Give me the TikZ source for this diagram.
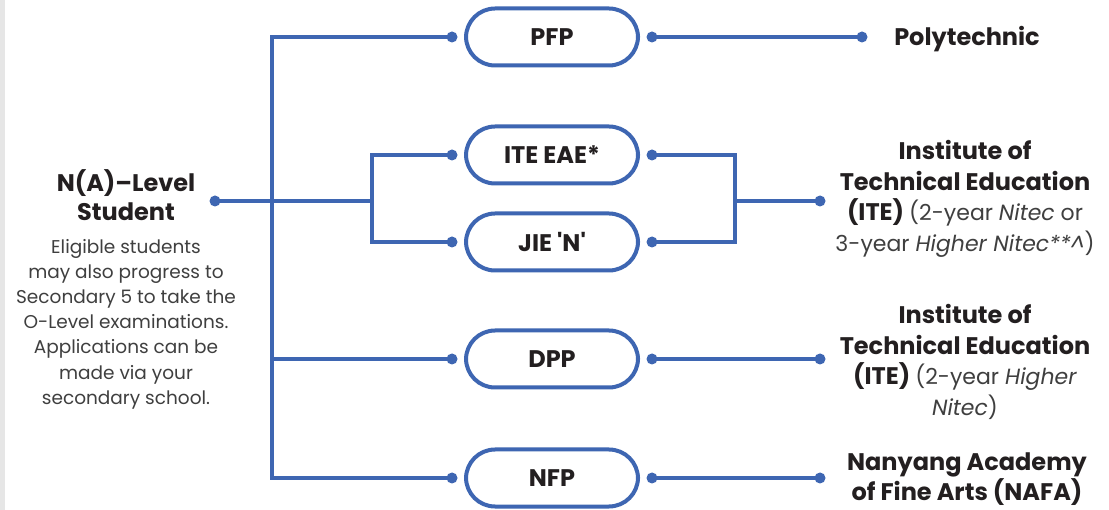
\documentclass[tikz,border=0pt]{standalone}
\usepackage{fontspec}
\setmainfont{Poppins}
\definecolor{lineblue}{HTML}{3E66B2}
\definecolor{inkdark}{HTML}{231F20}
\definecolor{inkgrey}{HTML}{3F3F3F}
\definecolor{stripgrey}{HTML}{E6E6E6}
\newcommand{\lite}{\fontsize{22}{30.5}\selectfont\mdseries\color{inkgrey}}
\begin{document}
\begin{tikzpicture}[x=1pt,y=-1pt,
  pill/.style={draw=lineblue,line width=4pt,rounded corners=29pt,minimum width=172pt,minimum height=57pt,
    font=\fontsize{24}{28}\selectfont\bfseries,text=inkdark,fill=white},
  conn/.style={draw=lineblue,line width=4pt},
  dest/.style={align=center,font=\fontsize{24}{30.5}\selectfont\bfseries,text=inkdark},
  desc/.style={align=center,font=\fontsize{18.5}{25.2}\selectfont,text=inkgrey},
  dotc/.style={fill=lineblue}]
\useasboundingbox (0,0) rectangle (1109,510);
\fill[white] (0,0) rectangle (1109,510);
\fill[stripgrey] (0,0) rectangle (5,510);

% student
\node[dest,font=\fontsize{24}{29}\selectfont\bfseries] (stu) at (126,195.5) {N(A)--Level\\Student};
\node[desc] (stud) at (126,324) {Eligible students\\may also progress to\\Secondary 5 to take the\\O-Level examinations.\\Applications can be\\made via your\\secondary school.};

% pills
\node[pill] (pfp) at (552,37) {PFP};
\node[pill] (ite) at (552,155) {ITE EAE*};
\node[pill] (jie) at (552,242) {JIE \textquotesingle N\textquotesingle};
\node[pill] (dpp) at (552,359) {DPP};
\node[pill] (nfp) at (552,478) {NFP};

% destinations
\node[dest] (poly) at (967,39) {Polytechnic};
\node[dest] (ite1) at (965,199) {Institute of\\Technical Education\\(ITE) {\lite(2-year \textit{Nitec} or}\\{\lite 3-year \textit{Higher Nitec**\^{}})}};
\node[dest] (ite2) at (965,362) {Institute of\\Technical Education\\(ITE) {\lite(2-year \textit{Higher}}\\{\lite\textit{Nitec})}};
\node[dest] (nafa) at (967,479) {Nanyang Academy\\of Fine Arts (NAFA)};

% connector points
\coordinate (sdot) at (215,201);
\coordinate (trunkTop) at (272,37);
\coordinate (trunkBot) at (272,478);
\coordinate (branchL) at (372,201);
\coordinate (branchR) at (735,201);
\foreach \p in {pfp,ite,jie,dpp,nfp}{
  \coordinate (\p L) at ([xshift=-12pt]\p.west);
  \coordinate (\p R) at ([xshift=12pt]\p.east);
}
\coordinate (polyDot) at (862,37);
\coordinate (ite1Dot) at (820,201);
\coordinate (ite2Dot) at (820,359);
\coordinate (nafaDot) at (820,476);

% connectors
\draw[conn] (pfpL) -| (trunkBot) -- (nfpL);
\draw[conn] (sdot) -- (branchL);
\draw[conn] (iteL) -| (branchL) |- (jieL);
\draw[conn] (trunkTop |- dppL) -- (dppL);
\draw[conn] (pfpR) -- (polyDot);
\draw[conn] (iteR) -| (branchR) |- (jieR);
\draw[conn] (branchR) -- (ite1Dot);
\draw[conn] (dppR) -- (ite2Dot);
\draw[conn] (nfpR) -- (nfpR -| nafaDot) -- (nafaDot);

% dots
\foreach \c in {sdot,pfpL,iteL,jieL,dppL,nfpL,pfpR,iteR,jieR,dppR,nfpR,polyDot,ite1Dot,ite2Dot}{
  \fill[dotc] (\c) circle (5.5pt);
}
\fill[dotc] (nfpR -| nafaDot) circle (5.5pt);
\end{tikzpicture}
\end{document}
